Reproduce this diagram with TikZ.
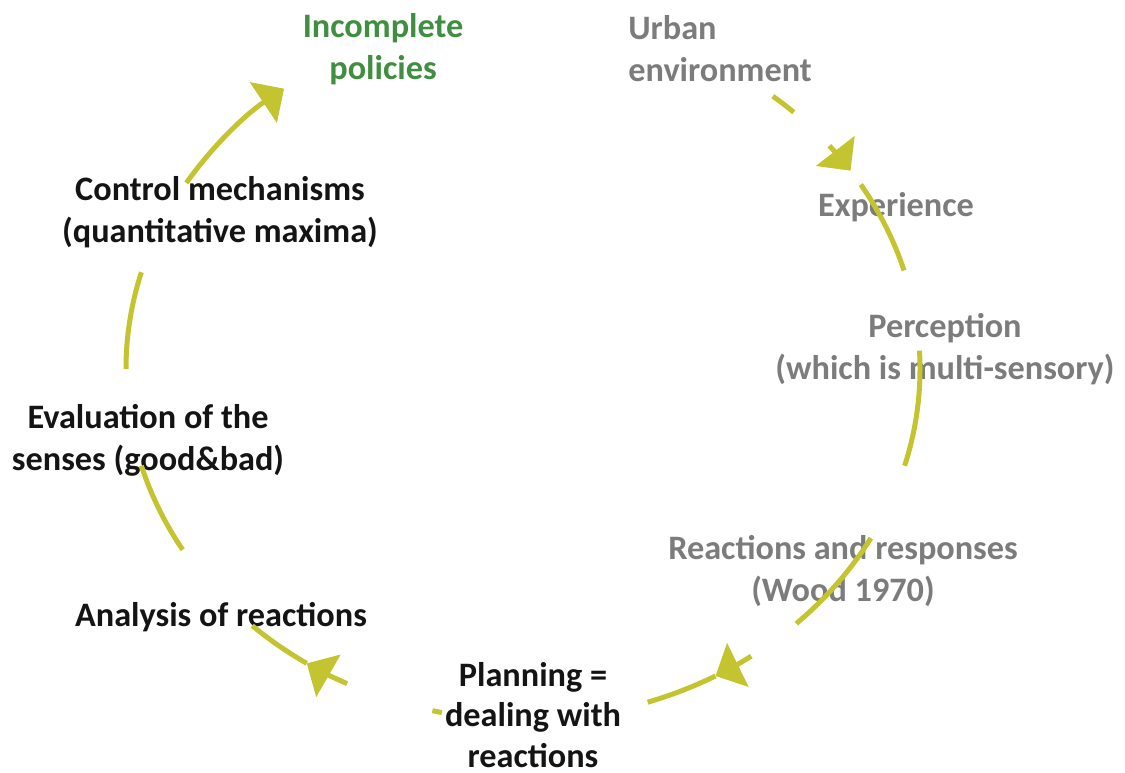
\documentclass[tikz,border=0pt]{standalone}
\usepackage{fontspec}
\setmainfont{Carlito}
\usetikzlibrary{arrows.meta}
\definecolor{cycgreen}{RGB}{196,196,48}
\definecolor{txtgreen}{RGB}{64,142,64}
\definecolor{txtgray}{RGB}{124,124,124}
\definecolor{txtblack}{RGB}{20,20,20}
\begin{document}
\begin{tikzpicture}[x=0.02cm, y=0.02cm,
  txt/.style={font=\fontsize{19.5}{24}\selectfont\bfseries, align=center, inner sep=0pt, text=txtblack},
  faded/.style={txt, text=txtgray},
  goal/.style={txt, text=txtgreen},
  cyc/.style={draw=cycgreen, line width=0.1cm},
  cycarrow/.style={cyc, -{Triangle[width=0.96cm, length=0.5cm]}}
]
\useasboundingbox (0,0) rectangle (1125,773);
\coordinate (hub) at (523,404);

\node[goal] (policies) at (383,724) {Incomplete\\policies};
\node[faded, anchor=west, align=left] (urban) at (628,724) {Urban\\environment};
\node[faded] (experience) at (896,566) {Experience};
\node[faded] (perception) at (945,424) {Perception\\(which is multi-sensory)};
\node[faded] (reactions) at (843,202) {Reactions and responses\\(Wood 1970)};
\node[txt, font=\fontsize{19.5}{23}\selectfont\bfseries] (planning) at (533,58) {Planning =\\dealing with\\reactions};
\node[txt] (analysis) at (221,156) {Analysis of reactions};
\node[txt] (evaluation) at (148,333) {Evaluation of the\\senses (good\&bad)};
\node[txt] (control) at (220,561) {Control mechanisms\\(quantitative maxima)};

% urban environment -> experience -> perception -> reactions
\draw[cyc] ([shift={(hub)}]51:397 and 351) arc[start angle=51, end angle=47, x radius=397, y radius=351];
\draw[cycarrow] ([shift={(hub)}]39.5:397 and 351) arc[start angle=39.5, end angle=34.4, x radius=397, y radius=351];
\draw[cyc] ([shift={(hub)}]31.7:397 and 351) arc[start angle=31.7, end angle=16.3, x radius=397, y radius=351];
\draw[cyc] ([shift={(hub)}]3:397 and 351) arc[start angle=3, end angle=-16, x radius=397, y radius=351];
\draw[cyc] ([shift={(hub)}]-28.8:397 and 351) arc[start angle=-28.8, end angle=-46.5, x radius=397, y radius=351];
% reactions -> planning -> analysis
\draw[cycarrow] ([shift={(hub)}]-54.9:397 and 351) arc[start angle=-54.9, end angle=-61, x radius=397, y radius=351];
\draw[cyc] ([shift={(hub)}]-61:397 and 351) arc[start angle=-61, end angle=-71.7, x radius=397, y radius=351];
\draw[cyc] ([shift={(hub)}]-101.8:397 and 351) arc[start angle=-101.8, end angle=-103.2, x radius=397, y radius=351];
\draw[cycarrow] ([shift={(hub)}]243.7:397 and 351) arc[start angle=243.7, end angle=237, x radius=397, y radius=351];
\draw[cyc] ([shift={(hub)}]237:397 and 351) arc[start angle=237, end angle=227, x radius=397, y radius=351];
% evaluation -> control -> policies
\draw[cyc] ([shift={(hub)}]211:397 and 351) arc[start angle=211, end angle=196, x radius=397, y radius=351];
\draw[cyc] ([shift={(hub)}]180:397 and 351) arc[start angle=180, end angle=164, x radius=397, y radius=351];
\draw[cycarrow] ([shift={(hub)}]148:397 and 351) arc[start angle=148, end angle=127, x radius=397, y radius=351];
\end{tikzpicture}
\end{document}
